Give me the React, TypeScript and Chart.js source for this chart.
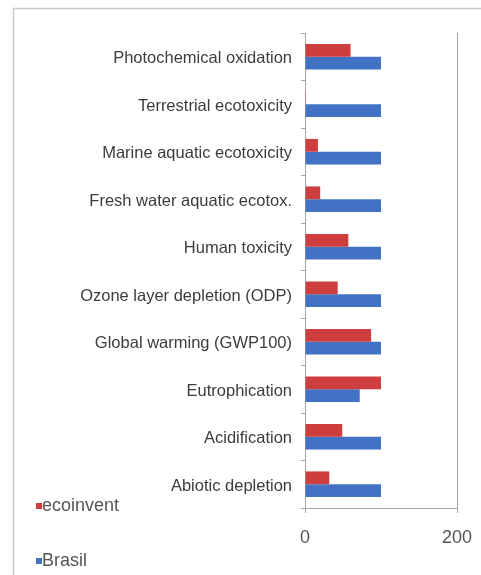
import { useEffect, useRef } from "react";
import { Chart, registerables } from "chart.js";

Chart.register(...registerables);

// Impact categories, listed from top to bottom
const categories = [
  "Photochemical oxidation",
  "Terrestrial ecotoxicity",
  "Marine aquatic ecotoxicity",
  "Fresh water aquatic ecotox.",
  "Human toxicity",
  "Ozone layer depletion (ODP)",
  "Global warming (GWP100)",
  "Eutrophication",
  "Acidification",
  "Abiotic depletion",
];

// Relative impact (%) per database
const ecoinvent = [60, 1, 17, 20, 57, 43, 87, 100, 49, 32];
const brasil = [100, 100, 100, 100, 100, 100, 100, 72, 100, 100];

const xTickValues = [0, 200];

const RED = "#CF3E3E";
const BLUE = "#4172C4";
const AXIS = "#a6a6a6";
const FONT = "'Liberation Sans', Arial, sans-serif";

// Outer frame of the chart object
const framePlugin = {
  id: "frame",
  afterDraw(chart: Chart) {
    const { ctx } = chart;
    ctx.save();
    ctx.strokeStyle = "#c9c9c9";
    ctx.lineWidth = 1.5;
    ctx.beginPath();
    ctx.moveTo(13.5, chart.height + 2);
    ctx.lineTo(13.5, 8.5);
    ctx.lineTo(chart.width + 2, 8.5);
    ctx.stroke();
    ctx.restore();
  },
};

// Vertical legend in the lower-left corner
const legendPlugin = {
  id: "stackedLegend",
  afterDraw(chart: Chart) {
    const { ctx } = chart;
    const rows = [506, 561];
    ctx.save();
    ctx.font = `18px ${FONT}`;
    ctx.textBaseline = "middle";
    ctx.textAlign = "left";
    chart.data.datasets.forEach((ds, i) => {
      const y = rows[i];
      ctx.fillStyle = ds.backgroundColor as string;
      ctx.fillRect(36, y - 3, 6, 6);
      ctx.fillStyle = "#555555";
      ctx.fillText(ds.label as string, 42, y);
    });
    ctx.restore();
  },
};

export default function App() {
  const canvasRef = useRef<HTMLCanvasElement | null>(null);

  useEffect(() => {
    if (!canvasRef.current) return;
    const chart = new Chart(canvasRef.current, {
      type: "bar",
      data: {
        labels: categories,
        datasets: [
          {
            label: "ecoinvent",
            data: ecoinvent,
            backgroundColor: RED,
            categoryPercentage: 0.54,
            barPercentage: 1,
          },
          {
            label: "Brasil",
            data: brasil,
            backgroundColor: BLUE,
            categoryPercentage: 0.54,
            barPercentage: 1,
          },
        ],
      },
      options: {
        indexAxis: "y",
        animation: false,
        responsive: false,
        layout: { padding: { left: 0, top: 33, right: 24, bottom: 0 } },
        plugins: {
          legend: { display: false },
          tooltip: { enabled: false },
        },
        scales: {
          x: {
            min: 0,
            max: 200,
            afterBuildTicks: (scale: any) => {
              scale.ticks = xTickValues.map((v) => ({ value: v }));
            },
            afterFit: (scale: any) => {
              scale.height = 67;
              scale.paddingRight = 0;
              scale.paddingLeft = 0;
            },
            grid: {
              color: AXIS,
              drawOnChartArea: true,
              drawTicks: true,
              tickLength: 5,
            },
            border: { color: AXIS },
            ticks: {
              color: "#555555",
              font: { family: FONT, size: 18 },
              padding: 14,
              maxRotation: 0,
            },
          },
          y: {
            afterFit: (scale: any) => {
              scale.width = 305;
              scale.paddingTop = 0;
              scale.paddingBottom = 0;
            },
            grid: {
              color: AXIS,
              drawOnChartArea: false,
              drawTicks: true,
              tickLength: 4,
              offset: true,
            },
            border: { color: AXIS },
            ticks: {
              color: "#3c3c3c",
              font: { family: FONT, size: 16.5 },
              padding: 9,
              labelOffset: 2,
              autoSkip: false,
            },
          },
        },
      },
      plugins: [framePlugin, legendPlugin],
    });
    return () => chart.destroy();
  }, []);

  return (
    <div style={{ position: "absolute", left: 0, top: 0, width: 481, height: 575, background: "#ffffff" }}>
      <canvas ref={canvasRef} width={481} height={575} />
    </div>
  );
}
